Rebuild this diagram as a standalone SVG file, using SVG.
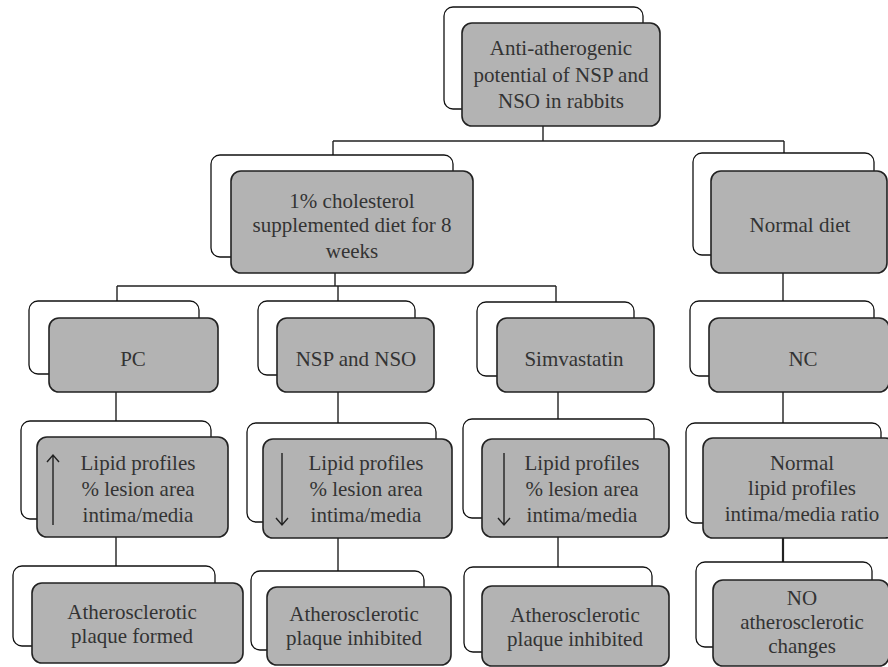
<svg xmlns="http://www.w3.org/2000/svg" width="888" height="667" viewBox="0 0 888 667">
<style>
.back{fill:#fff;stroke:#111;stroke-width:1.3}
.front{fill:#b3b3b3;stroke:#222;stroke-width:1.6}
.t{font-family:"Liberation Serif","Times New Roman",serif;font-size:21px;fill:#333;text-anchor:middle}
.c{fill:none;stroke:#222;stroke-width:1.4}
.ar{fill:none;stroke:#222;stroke-width:1.4}
</style>
<rect width="888" height="667" fill="#fff"/>
<g id="connectors">
<path class="c" d="M543 126V141M333 141H784M333 141V155M784 141V153"/>
<path class="c" d="M335 273V286M117 286H556M117 286V301M338 286V301M556 286V302"/>
<path class="c" d="M783 273V301M783 392V423"/>
<path class="c" d="M116 392V421M338 392V423M558 392V419"/>
<path class="c" d="M116 537V566M338 538V571M558 537V567"/>
<path class="c" style="stroke-width:2.2" d="M783 538V562"/>
</g>
<g id="n-top">
<rect class="back" x="444" y="7" width="199" height="102" rx="9"/>
<rect class="front" x="462" y="23" width="198" height="103" rx="10"/>
<text class="t" x="561" y="55">Anti-atherogenic</text>
<text class="t" x="561" y="81.5">potential of NSP and</text>
<text class="t" x="561" y="108">NSO in rabbits</text>
</g>
<g id="n-chol">
<rect class="back" x="211" y="155" width="242" height="102" rx="9"/>
<rect class="front" x="231" y="171" width="242" height="102" rx="10"/>
<text class="t" x="352" y="208">1% cholesterol</text>
<text class="t" x="352" y="232">supplemented diet for 8</text>
<text class="t" x="352" y="258">weeks</text>
</g>
<g id="n-normal">
<rect class="back" x="693" y="153" width="181" height="102" rx="9"/>
<rect class="front" x="711" y="171" width="176" height="102" rx="10"/>
<text class="t" x="800" y="232">Normal diet</text>
</g>
<g id="n-pc">
<rect class="back" x="29" y="301" width="170" height="73" rx="9"/>
<rect class="front" x="49" y="318" width="169" height="74" rx="10"/>
<text class="t" x="133" y="366">PC</text>
</g>
<g id="n-nsp">
<rect class="back" x="258" y="301" width="157" height="74" rx="9"/>
<rect class="front" x="277" y="318" width="157" height="74" rx="10"/>
<text class="t" x="356" y="366">NSP and NSO</text>
</g>
<g id="n-sim">
<rect class="back" x="477" y="302" width="157" height="74" rx="9"/>
<rect class="front" x="497" y="318" width="157" height="74" rx="10"/>
<text class="t" x="574" y="366">Simvastatin</text>
</g>
<g id="n-nc">
<rect class="back" x="690" y="301" width="184" height="75" rx="9"/>
<rect class="front" x="709" y="318" width="180" height="74" rx="10"/>
<text class="t" x="803" y="366">NC</text>
</g>
<g id="n-pc-lipid">
<rect class="back" x="21" y="421" width="190" height="98" rx="9"/>
<rect class="front" x="37" y="437" width="191" height="100" rx="10"/>
<path class="ar" d="M53 525V455M47 462L53 455L59 462"/>
<text class="t" x="138" y="470">Lipid profiles</text>
<text class="t" x="138" y="496">% lesion area</text>
<text class="t" x="138" y="522">intima/media</text>
</g>
<g id="n-nsp-lipid">
<rect class="back" x="247" y="423" width="189" height="99" rx="9"/>
<rect class="front" x="263" y="439" width="189" height="99" rx="10"/>
<path class="ar" d="M282 453V525M276 518L282 525L288 518"/>
<text class="t" x="366" y="470">Lipid profiles</text>
<text class="t" x="366" y="496">% lesion area</text>
<text class="t" x="366" y="522">intima/media</text>
</g>
<g id="n-sim-lipid">
<rect class="back" x="463" y="419" width="191" height="99" rx="9"/>
<rect class="front" x="482" y="439" width="187" height="98" rx="10"/>
<path class="ar" d="M504 453V525M498 518L504 525L510 518"/>
<text class="t" x="582" y="470">Lipid profiles</text>
<text class="t" x="582" y="496">% lesion area</text>
<text class="t" x="582" y="522">intima/media</text>
</g>
<g id="n-nc-lipid">
<rect class="back" x="686" y="423" width="195" height="100" rx="9"/>
<rect class="front" x="703" y="438" width="192" height="100" rx="10"/>
<text class="t" x="802" y="470">Normal</text>
<text class="t" x="802" y="495">lipid profiles</text>
<text class="t" x="802" y="521">intima/media ratio</text>
</g>
<g id="n-pc-out">
<rect class="back" x="13" y="566" width="202" height="80" rx="9"/>
<rect class="front" x="32" y="583" width="211" height="80" rx="10"/>
<text class="t" x="132" y="619">Atherosclerotic</text>
<text class="t" x="132" y="643">plaque formed</text>
</g>
<g id="n-nsp-out">
<rect class="back" x="251" y="571" width="173" height="79" rx="9"/>
<rect class="front" x="267" y="587" width="184" height="78" rx="10"/>
<text class="t" x="354" y="621">Atherosclerotic</text>
<text class="t" x="354" y="645">plaque inhibited</text>
</g>
<g id="n-sim-out">
<rect class="back" x="464" y="567" width="188" height="85" rx="9"/>
<rect class="front" x="482" y="586" width="187" height="80" rx="10"/>
<text class="t" x="575" y="622">Atherosclerotic</text>
<text class="t" x="575" y="646">plaque inhibited</text>
</g>
<g id="n-nc-out">
<rect class="back" x="696" y="562" width="176" height="85" rx="9"/>
<rect class="front" x="713" y="580" width="176" height="86" rx="10"/>
<text class="t" x="802" y="605">NO</text>
<text class="t" x="802" y="629">atherosclerotic</text>
<text class="t" x="802" y="653">changes</text>
</g>
</svg>
